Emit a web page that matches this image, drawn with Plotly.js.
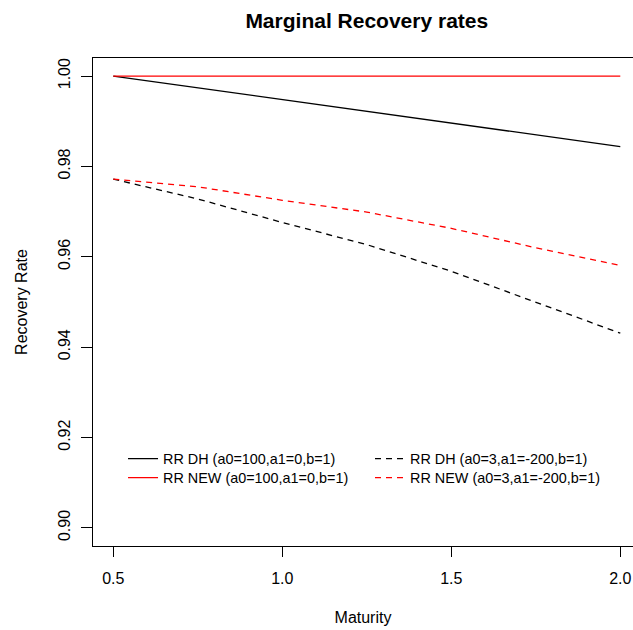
<!DOCTYPE html>
<html>
<head>
<meta charset="utf-8">
<script src="https://cdn.plot.ly/plotly-3.0.1.min.js"></script>
<style>html,body{margin:0;padding:0;background:#fff;}#chart{width:633px;height:630px;}</style>
</head>
<body>
<div id="chart"></div>
<script>
// Data
const maturity = [0.5, 0.75, 1.0, 1.25, 1.5, 1.75, 2.0];
const rrDH_a100  = [1.0000, 0.9974, 0.9948, 0.9922, 0.9896, 0.9870, 0.9844];
const rrNEW_a100 = [1.0000, 1.0000, 1.0000, 1.0000, 1.0000, 1.0000, 1.0000];
const rrDH_a3    = [0.9772, 0.9728, 0.9676, 0.9627, 0.9568, 0.9499, 0.9431];
const rrNEW_a3   = [0.9772, 0.9755, 0.9725, 0.9699, 0.9663, 0.9620, 0.9581];
const seriesNames = [
  'RR DH (a0=100,a1=0,b=1)',
  'RR DH (a0=3,a1=-200,b=1)',
  'RR NEW (a0=100,a1=0,b=1)',
  'RR NEW (a0=3,a1=-200,b=1)'
];
const xTicks = [0.5, 1.0, 1.5, 2.0];
const yTicks = [0.90, 0.92, 0.94, 0.96, 0.98, 1.00];

const FONT = 'Liberation Sans, Arial, sans-serif';
const LW = 1.3;
const DASH = '6px,5px';

const traces = [
  {x: maturity, y: rrDH_a100, name: seriesNames[0], mode: 'lines', line: {color: '#000', width: LW}, legend: 'legend'},
  {x: maturity, y: rrDH_a3, name: seriesNames[1], mode: 'lines', line: {color: '#000', width: LW, dash: DASH}, legend: 'legend'},
  {x: maturity, y: rrNEW_a100, name: seriesNames[2], mode: 'lines', line: {color: '#ff0000', width: LW}, legend: 'legend2'},
  {x: maturity, y: rrNEW_a3, name: seriesNames[3], mode: 'lines', line: {color: '#ff0000', width: LW, dash: DASH}, legend: 'legend2'}
];

const legendCommon = {
  orientation: 'h', xanchor: 'left', yanchor: 'top',
  entrywidthmode: 'pixels', entrywidth: 202,
  bgcolor: 'rgba(0,0,0,0)', borderwidth: 0,
  font: {family: FONT, size: 14.4, color: '#000'},
  traceorder: 'normal'
};

const layout = {
  width: 633, height: 630,
  margin: {l: 93, r: 0, t: 58, b: 84, pad: 0},
  paper_bgcolor: '#fff', plot_bgcolor: '#fff',
  showlegend: true,
  title: {
    text: '<b>Marginal Recovery rates</b>',
    font: {family: FONT, size: 21, color: '#000'},
    xref: 'paper', x: 0.507, xanchor: 'center',
    yref: 'container', y: 0.968, yanchor: 'middle'
  },
  xaxis: {
    range: [0.44, 2.0376],
    tickvals: xTicks, tickformat: '.1f',
    ticks: 'outside', ticklen: 10, tickwidth: 1, tickcolor: '#000',
    showline: true, linecolor: '#000', linewidth: 1, mirror: true,
    showgrid: false, zeroline: false,
    tickfont: {family: FONT, size: 16, color: '#000'},
    ticklabelstandoff: 8,
    title: {text: 'Maturity', font: {family: FONT, size: 16, color: '#000'}, standoff: 25},
    automargin: false
  },
  yaxis: {
    range: [0.896, 1.004],
    tickvals: yTicks, tickformat: '.2f', tickangle: -90,
    ticks: 'outside', ticklen: 11, tickwidth: 1, tickcolor: '#000',
    showline: true, linecolor: '#000', linewidth: 1, mirror: false,
    showgrid: false, zeroline: false,
    tickfont: {family: FONT, size: 16, color: '#000'},
    ticklabelstandoff: 5,
    title: {text: 'Recovery Rate', font: {family: FONT, size: 16, color: '#000'}, standoff: 23},
    automargin: false
  },
  legend: Object.assign({}, legendCommon, {x: 0.0556, y: 0.2114}),
  legend2: Object.assign({}, legendCommon, {x: 0.0556, y: 0.1725})
};

Plotly.newPlot('chart', traces, layout, {displayModeBar: false, staticPlot: true});
</script>
</body>
</html>
